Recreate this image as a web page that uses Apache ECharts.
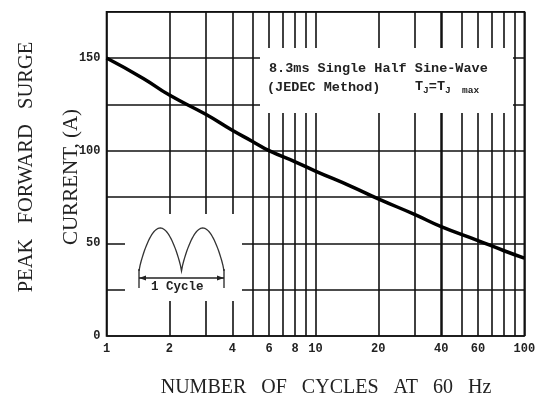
<!DOCTYPE html>
<html>
<head>
<meta charset="utf-8">
<script src="https://cdn.jsdelivr.net/npm/echarts@6/dist/echarts.min.js"></script>
<style>html,body{margin:0;padding:0;background:#fff;}#chart{width:545px;height:403px;}</style>
</head>
<body>
<div id="chart"></div>
<script>
// Data
const cycles = [1, 1.5, 2, 3, 4, 5, 6, 8, 10, 15, 20, 30, 40, 60, 80, 100];
const surgeCurrent = [150, 139, 130, 119.5, 111, 105, 100, 94, 89, 80.5, 74, 65.5, 59, 51.5, 46, 42];
const xGridValues = [1, 2, 3, 4, 5, 6, 7, 8, 9, 10, 20, 30, 40, 50, 60, 70, 80, 90, 100];
const xTickLabels = [1, 2, 4, 6, 8, 10, 20, 40, 60, 100];
const yTickLabels = [0, 50, 100, 150];
const yMin = 0, yMax = 175, yStep = 25;

const chart = echarts.init(document.getElementById('chart'), null, {renderer: 'canvas'});
const ink = '#111';
const monoFont = '"Liberation Mono", "DejaVu Sans Mono", monospace';
const serifFont = '"Liberation Serif", "DejaVu Serif", serif';

const markData = xGridValues.map(v => ({
  xAxis: v,
  lineStyle: {color: ink, width: v === 40 ? 2.5 : 1.6, type: 'solid'},
  label: xTickLabels.indexOf(v) >= 0
    ? {show: true, position: 'start', distance: 7, formatter: String(v),
       color: '#222', fontFamily: monoFont, fontSize: 12, fontWeight: 'bold'}
    : {show: false}
}));

// Inset waveform points (illustration)
const wavePts = [];
const wx0 = 139, wx1 = 224, wy0 = 271, wAmp = 43;
for (let i = 0; i <= 80; i++) {
  const t = i / 80;
  wavePts.push([wx0 + (wx1 - wx0) * t, wy0 - wAmp * Math.pow(Math.abs(Math.sin(2 * Math.PI * t)), 0.8)]);
}

chart.setOption({
  animation: false,
  backgroundColor: '#fff',
  grid: {left: 106.5, right: 20.7, top: 11.7, bottom: 67, show: true,
         borderColor: ink, borderWidth: 1.6, backgroundColor: 'transparent'},
  xAxis: {
    type: 'log', logBase: 10, min: 1, max: 100,
    axisLine: {show: false}, axisTick: {show: false}, axisLabel: {show: false},
    splitLine: {show: false}, minorSplitLine: {show: false}
  },
  yAxis: {
    type: 'value', min: yMin, max: yMax, interval: yStep,
    axisLine: {show: false}, axisTick: {show: false},
    axisLabel: {margin: 6, color: '#222', fontFamily: monoFont, fontSize: 12, fontWeight: 'bold',
      formatter: v => (yTickLabels.indexOf(v) >= 0 ? String(v) : '')},
    splitLine: {show: true, lineStyle: {color: ink, width: 1.6}}
  },
  series: [
    {
      type: 'line', data: [], z: 0,
      markLine: {silent: true, symbol: ['none', 'none'], animation: false, z: 0,
        data: markData}
    },
    {
      type: 'line', smooth: true, symbol: 'none', z: 5,
      data: cycles.map((c, i) => [c, surgeCurrent[i]]),
      lineStyle: {color: '#000', width: 3.5}
    }
  ],
  graphic: [
    {type: 'rect', z: 3, shape: {x: 260, y: 48, width: 253, height: 65}, style: {fill: '#fff'}},
    {type: 'rect', z: 3, shape: {x: 125, y: 214, width: 117, height: 87}, style: {fill: '#fff'}},
    {type: 'text', z: 4, left: 269, top: 62, style: {text: '8.3ms Single Half Sine-Wave',
      fill: '#222', font: 'bold 13.5px ' + monoFont}},
    {type: 'text', z: 4, left: 267, top: 81, style: {text: '(JEDEC Method)',
      fill: '#222', font: 'bold 13.5px ' + monoFont}},
    {type: 'text', z: 4, left: 415, top: 80, style: {
      text: '{t|T}{s|J}{t|=T}{s|J  max}',
      rich: {t: {fill: '#222', font: 'bold 13.5px ' + monoFont},
             s: {fill: '#222', font: 'bold 9.5px ' + monoFont, padding: [8, 0, 0, 0]}}}},
    {type: 'polyline', z: 4, shape: {points: wavePts}, style: {stroke: '#333', lineWidth: 1.3, fill: null}},
    {type: 'line', z: 4, shape: {x1: 139, y1: 278, x2: 224, y2: 278}, style: {stroke: '#222', lineWidth: 1.3}},
    {type: 'line', z: 4, shape: {x1: 139, y1: 269, x2: 139, y2: 288}, style: {stroke: '#222', lineWidth: 1.3}},
    {type: 'line', z: 4, shape: {x1: 224, y1: 269, x2: 224, y2: 288}, style: {stroke: '#222', lineWidth: 1.3}},
    {type: 'polygon', z: 4, shape: {points: [[139, 278], [146, 275.5], [146, 280.5]]}, style: {fill: '#222'}},
    {type: 'polygon', z: 4, shape: {points: [[224, 278], [217, 275.5], [217, 280.5]]}, style: {fill: '#222'}},
    {type: 'text', z: 4, left: 151, top: 280, style: {text: '1 Cycle', fill: '#222',
      font: 'bold 12.5px ' + monoFont}},
    {type: 'text', z: 4, x: 27, y: 167, rotation: Math.PI / 2, style: {
      text: 'PEAK   FORWARD   SURGE', fill: '#222', font: '20.5px ' + serifFont,
      align: 'center', verticalAlign: 'middle'}},
    {type: 'text', z: 4, x: 71, y: 177, rotation: Math.PI / 2, style: {
      text: 'CURRENT, (A)', fill: '#222', font: '21px ' + serifFont,
      align: 'center', verticalAlign: 'middle'}},
    {type: 'text', z: 4, x: 326, y: 388, style: {
      text: 'NUMBER   OF   CYCLES   AT   60   Hz', fill: '#222', font: '20px ' + serifFont,
      align: 'center', verticalAlign: 'middle'}}
  ]
});
</script>
</body>
</html>
